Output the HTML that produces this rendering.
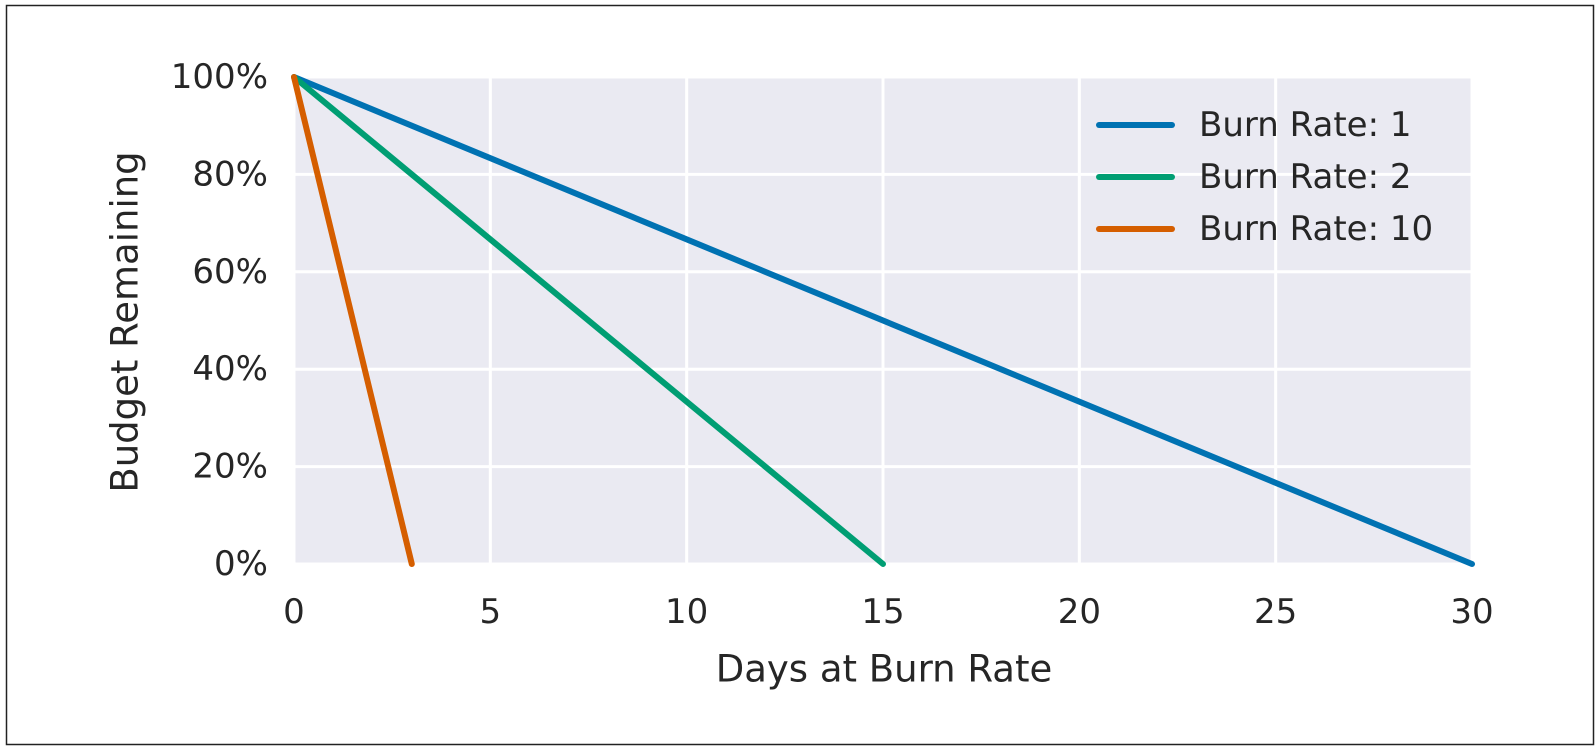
<!DOCTYPE html>
<html><head><meta charset="utf-8"><style>
body{margin:0;background:#fff;}
svg{display:block;font-family:"DejaVu Sans","Liberation Sans",sans-serif;}
</style></head><body>
<svg width="1596" height="748">
<rect x="6.5" y="5.5" width="1587" height="739" fill="#fff" stroke="#222" stroke-width="1.5"/>
<g id="chart"></g>
</svg>
<script>
const xTicks=[0,5,10,15,20,25,30];
const yTicks=[0,20,40,60,80,100];
const seriesNames=["Burn Rate: 1","Burn Rate: 2","Burn Rate: 10"];
const seriesDays=[[0,30],[0,15],[0,3]];
const seriesBudget=[[100,0],[100,0],[100,0]];
const colors=["#0072B2","#009E73","#D55E00"];
const L=294,R=1472,T=77,B=564;
const sx=v=>L+(v-0)/(30-0)*(R-L);
const sy=v=>B-(v/100)*(B-T);
const NS="http://www.w3.org/2000/svg";
const g=document.getElementById('chart');
function mk(t,a,p){const e=document.createElementNS(NS,t);for(const k in a)e.setAttribute(k,a[k]);(p||g).appendChild(e);return e;}
const bg=mk('rect',{x:L,y:T,width:R-L,height:B-T,fill:'#EAEAF2'});


xTicks.forEach(v=>{
 const l=mk('line',{x1:sx(v),x2:sx(v),y1:T,y2:B,stroke:'#fff','stroke-width':3});
 
 
 const t=mk('text',{x:sx(v),y:612,'text-anchor':'middle','dominant-baseline':'central','font-size':34,fill:'#262626'});
 t.textContent=v;
 
 
});
yTicks.forEach(v=>{
 const l=mk('line',{x1:L,x2:R,y1:sy(v),y2:sy(v),stroke:'#fff','stroke-width':3});
 
 
 const t=mk('text',{x:268,y:sy(v),'text-anchor':'end','dominant-baseline':'central','font-size':34,fill:'#262626'});
 t.textContent=v+'%';
 
 
});
seriesNames.forEach((n,i)=>{
 const pts=seriesDays[i].map((d,j)=>sx(d)+','+sy(seriesBudget[i][j])).join(' ');
 const pl=mk('polyline',{points:pts,fill:'none',stroke:colors[i],'stroke-width':6,'stroke-linecap':'round'});
 
 
 const y=125+i*52;
 const ll=mk('line',{x1:1099,x2:1172,y1:y,y2:y,stroke:colors[i],'stroke-width':6,'stroke-linecap':'round'});
 
 
 const lt=mk('text',{x:1199,y:y,'dominant-baseline':'central','font-size':34,fill:'#262626'});
 lt.textContent=n;
 
 
});
const xl=mk('text',{x:884,y:669,'text-anchor':'middle','dominant-baseline':'central','font-size':37,fill:'#262626'});
xl.textContent='Days at Burn Rate';


const yl=mk('text',{x:125,y:322,'text-anchor':'middle','dominant-baseline':'central','font-size':37,fill:'#262626',transform:'rotate(-90 125 322)'});
yl.textContent='Budget Remaining';


</script>
</body></html>
